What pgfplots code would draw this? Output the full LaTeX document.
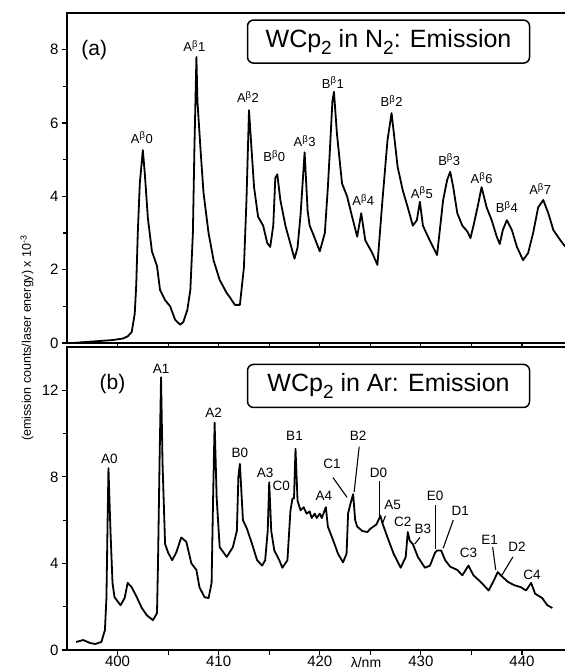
\documentclass[border=0pt]{standalone}
\usepackage{fontspec}
\setmainfont{Liberation Sans}
\usepackage{pgfplots}
\pgfplotsset{compat=1.18}
\newcommand{\sub}[1]{\raisebox{-0.28em}{\fontsize{19bp}{19bp}\selectfont #1}}
\newcommand{\pk}[2]{#1\textsuperscript{\fontsize{9.5bp}{10bp}\selectfont β}#2}

\pgfplotstableread{
x y
395.5 0.00
396.5 0.02
397.5 0.04
398.5 0.06
399.5 0.08
400.5 0.12
401.0 0.18
401.4 0.30
401.7 0.80
401.85 1.6
402.0 3.0
402.2 4.35
402.5 5.26
402.7 4.6
403.0 3.4
403.4 2.5
403.9 2.1
404.2 1.45
404.7 1.17
405.2 1.0
405.7 0.63
406.2 0.5
406.5 0.57
406.9 0.9
407.2 1.45
407.45 3.0
407.6 5.3
407.8 7.8
407.9 6.6
408.2 5.3
408.5 4.1
409.0 3.0
409.5 2.25
410.1 1.72
410.8 1.36
411.1 1.25
411.6 1.04
412.1 1.04
412.5 2.07
412.75 3.9
413.0 6.35
413.2 5.5
413.5 4.25
413.9 3.44
414.4 3.2
414.8 2.73
415.1 2.62
415.4 3.2
415.6 4.5
415.8 4.6
416.1 3.9
416.6 3.2
417.1 2.7
417.5 2.3
417.8 2.6
418.1 3.5
418.5 5.2
418.8 3.6
419.0 3.2
419.3 3.0
420.0 2.5
420.5 3.0
420.8 4.25
421.0 5.26
421.25 6.6
421.4 6.85
421.7 5.7
422.2 4.35
422.7 4.0
423.2 3.44
423.7 2.9
424.1 3.54
424.5 2.8
425.2 2.45
425.7 2.13
426.2 3.9
426.7 5.54
427.1 6.27
427.4 5.54
427.7 4.8
428.2 4.17
428.7 3.7
429.2 3.2
429.6 3.35
429.9 3.85
430.2 3.2
430.7 2.9
431.2 2.62
431.6 2.4
432.2 3.9
432.6 4.45
432.9 4.67
433.2 4.25
433.6 3.54
434.1 3.2
434.6 3.04
434.9 2.86
435.2 3.2
435.6 3.7
436.0 4.25
436.5 3.7
437.0 3.35
437.5 2.9
437.8 2.7
438.1 3.08
438.5 3.35
439.0 3.08
439.5 2.62
440.1 2.26
440.6 2.45
441.1 3.0
441.6 3.7
442.1 3.9
442.6 3.54
443.1 3.08
443.8 2.8
444.3 2.62
}\topdata

\pgfplotstableread{
x y
395.9 0.37
396.6 0.46
397.3 0.32
397.8 0.28
398.4 0.37
398.75 0.92
398.9 2.4
399.0 5.5
399.1 8.4
399.3 5.5
399.5 3.1
399.7 2.44
400.3 2.07
400.7 2.4
401.0 3.1
401.4 2.9
401.9 2.44
402.4 1.94
402.9 1.6
403.5 1.38
403.9 1.7
404.0 4.0
404.15 8.6
404.3 12.6
404.45 8.6
404.7 4.9
405.0 4.5
405.4 4.15
405.8 4.5
406.3 5.2
406.8 5.0
407.3 4.0
407.8 3.7
408.1 2.9
408.6 2.44
409.0 2.4
409.3 3.1
409.45 7.05
409.6 10.5
409.8 7.05
410.1 4.75
410.8 4.3
411.4 4.75
411.8 5.5
411.95 8.0
412.1 8.6
412.4 6.0
412.8 5.6
413.3 4.9
413.8 4.15
414.3 3.9
414.6 4.15
414.85 5.5
415.0 7.75
415.2 5.5
415.5 4.6
416.0 4.15
416.3 3.8
416.8 4.15
417.1 6.45
417.3 7.0
417.45 7.0
417.6 9.3
417.8 6.9
418.1 6.45
418.4 6.6
418.7 6.3
419.0 6.4
419.2 6.1
419.5 6.3
419.7 6.1
420.0 6.3
420.2 6.1
420.6 6.6
420.8 5.7
421.3 5.1
421.8 4.45
422.3 4.05
422.65 4.45
422.8 6.3
423.0 6.7
423.3 7.2
423.5 6.0
423.7 5.7
424.2 5.5
424.7 5.45
425.0 5.6
425.3 5.7
425.6 5.8
425.9 6.1
426.0 6.2
426.2 5.85
426.7 5.2
427.3 4.45
428.0 3.8
428.5 4.3
428.7 5.45
428.9 5.05
429.2 4.9
429.7 4.3
430.4 3.8
430.9 3.9
431.4 4.5
431.6 4.6
432.0 4.6
432.4 4.15
432.9 3.85
433.6 3.7
434.1 3.45
434.7 3.9
435.2 3.45
435.9 3.15
436.7 2.75
437.2 3.2
437.6 3.6
437.9 3.45
438.6 3.15
439.2 3.0
439.9 2.9
440.4 2.75
440.9 3.1
441.3 2.6
442.0 2.4
442.5 2.07
443.0 1.94
}\botdata

\begin{document}
\begin{tikzpicture}[x=1bp,y=1bp]
\pgfplotsset{
 panel/.style={
  scale only axis, width=500.5bp,
  xmin=395, xmax=444.5,
  axis line style={line width=1.6bp},
  tick style={line width=1.2bp, black},
  tick align=outside,
  major tick length=5bp, minor tick length=4bp,
  xtick pos=bottom, ytick pos=left,
  xtick={400,405,...,440},
  /pgf/number format/assume math mode=true,
  ticklabel style={font=\fontsize{15bp}{17bp}\selectfont},
  xticklabel style={inner sep=0.5bp},
  every axis plot/.append style={line width=1.8bp, black, line join=round},
 },
}
\begin{axis}[panel, at={(67bp,327bp)}, anchor=south west, height=330bp,
  ymin=0, ymax=9, ytick={0,2,4,6,8}, minor ytick={1,3,5,7}, xticklabels={}]
\addplot[no marks] table {\topdata};
\node at (axis cs:397.7,8.0) {\fontsize{21bp}{22bp}\selectfont (a)};
\node[draw, line width=1.5bp, rounded corners=6bp, minimum width=282bp, minimum height=43bp, inner sep=0pt]
  at (axis cs:426.8,8.22) {\fontsize{25bp}{26bp}\selectfont WCp\sub{2} in N\sub{2}: Emission};
\begin{scope}[every node/.style={font=\fontsize{13bp}{14bp}\selectfont}]
\node at (axis cs:402.4,5.6) {\pk{A}{0}};
\node at (axis cs:407.6,8.1) {\pk{A}{1}};
\node at (axis cs:412.9,6.7) {\pk{A}{2}};
\node at (axis cs:415.5,5.1) {\pk{B}{0}};
\node at (axis cs:418.5,5.5) {\pk{A}{3}};
\node at (axis cs:421.3,7.1) {\pk{B}{1}};
\node at (axis cs:424.3,3.9) {\pk{A}{4}};
\node at (axis cs:427.1,6.6) {\pk{B}{2}};
\node at (axis cs:430.1,4.1) {\pk{A}{5}};
\node at (axis cs:432.8,5.0) {\pk{B}{3}};
\node at (axis cs:436.0,4.5) {\pk{A}{6}};
\node at (axis cs:438.5,3.7) {\pk{B}{4}};
\node at (axis cs:441.8,4.2) {\pk{A}{7}};
\end{scope}
\end{axis}

\begin{axis}[panel, at={(67bp,20bp)}, anchor=south west, height=303bp,
  ymin=0, ymax=14, ytick={0,4,8,12}, minor ytick={2,6,10},
  xticklabels={400,,410,,420,,430,,440}]
\addplot[no marks] table {\botdata};
\node at (axis cs:399.5,12.3) {\fontsize{21bp}{22bp}\selectfont (b)};
\node[draw, line width=1.5bp, rounded corners=6bp, minimum width=282bp, minimum height=43bp, inner sep=0pt]
  at (axis cs:426.8,12.2) {\fontsize{25bp}{26bp}\selectfont WCp\sub{2} in Ar: Emission};
\begin{scope}[every node/.style={font=\fontsize{13.5bp}{14bp}\selectfont}]
\node at (axis cs:399.2,8.85) {A0};
\node at (axis cs:404.3,13.0) {A1};
\node at (axis cs:409.5,10.97) {A2};
\node at (axis cs:412.1,9.1) {B0};
\node at (axis cs:414.6,8.2) {A3};
\node at (axis cs:416.2,7.6) {C0};
\node at (axis cs:417.5,9.9) {B1};
\node at (axis cs:420.4,7.14) {A4};
\node at (axis cs:421.2,8.6) {C1};
\node at (axis cs:423.8,9.9) {B2};
\node at (axis cs:425.8,8.2) {D0};
\node at (axis cs:427.2,6.7) {A5};
\node at (axis cs:428.2,5.9) {C2};
\node at (axis cs:430.2,5.58) {B3};
\node at (axis cs:431.4,7.14) {E0};
\node at (axis cs:433.9,6.45) {D1};
\node at (axis cs:434.7,4.47) {C3};
\node at (axis cs:436.8,5.1) {E1};
\node at (axis cs:439.5,4.75) {D2};
\node at (axis cs:441.0,3.45) {C4};
\end{scope}
\begin{scope}[line width=1.1bp]
\draw (axis cs:421.3,7.97) -- (axis cs:422.7,7.05);
\draw (axis cs:423.9,9.4) -- (axis cs:423.4,7.3);
\draw (axis cs:425.9,7.83) -- (axis cs:425.9,6.1);
\draw (axis cs:426.5,6.2) -- (axis cs:426.2,5.85);
\draw (axis cs:429.9,5.2) -- (axis cs:429.4,4.9);
\draw (axis cs:431.4,6.7) -- (axis cs:431.4,4.65);
\draw (axis cs:433.2,6.0) -- (axis cs:432.2,4.7);
\draw (axis cs:437.1,4.75) -- (axis cs:437.4,3.7);
\draw (axis cs:439.1,4.3) -- (axis cs:438.0,3.45);
\end{scope}
\end{axis}

\node[rotate=90, font=\fontsize{12.5bp}{13bp}\selectfont] at (27bp,332bp)
  {(emission counts/laser energy) x 10\textsuperscript{-3}};
\node[font=\fontsize{14bp}{15bp}\selectfont, inner sep=0pt, anchor=south] at (366bp,2bp) {λ/nm};

\pgfresetboundingbox
\path[use as bounding box] (0,0) rectangle (565bp,670bp);
\end{tikzpicture}
\end{document}
